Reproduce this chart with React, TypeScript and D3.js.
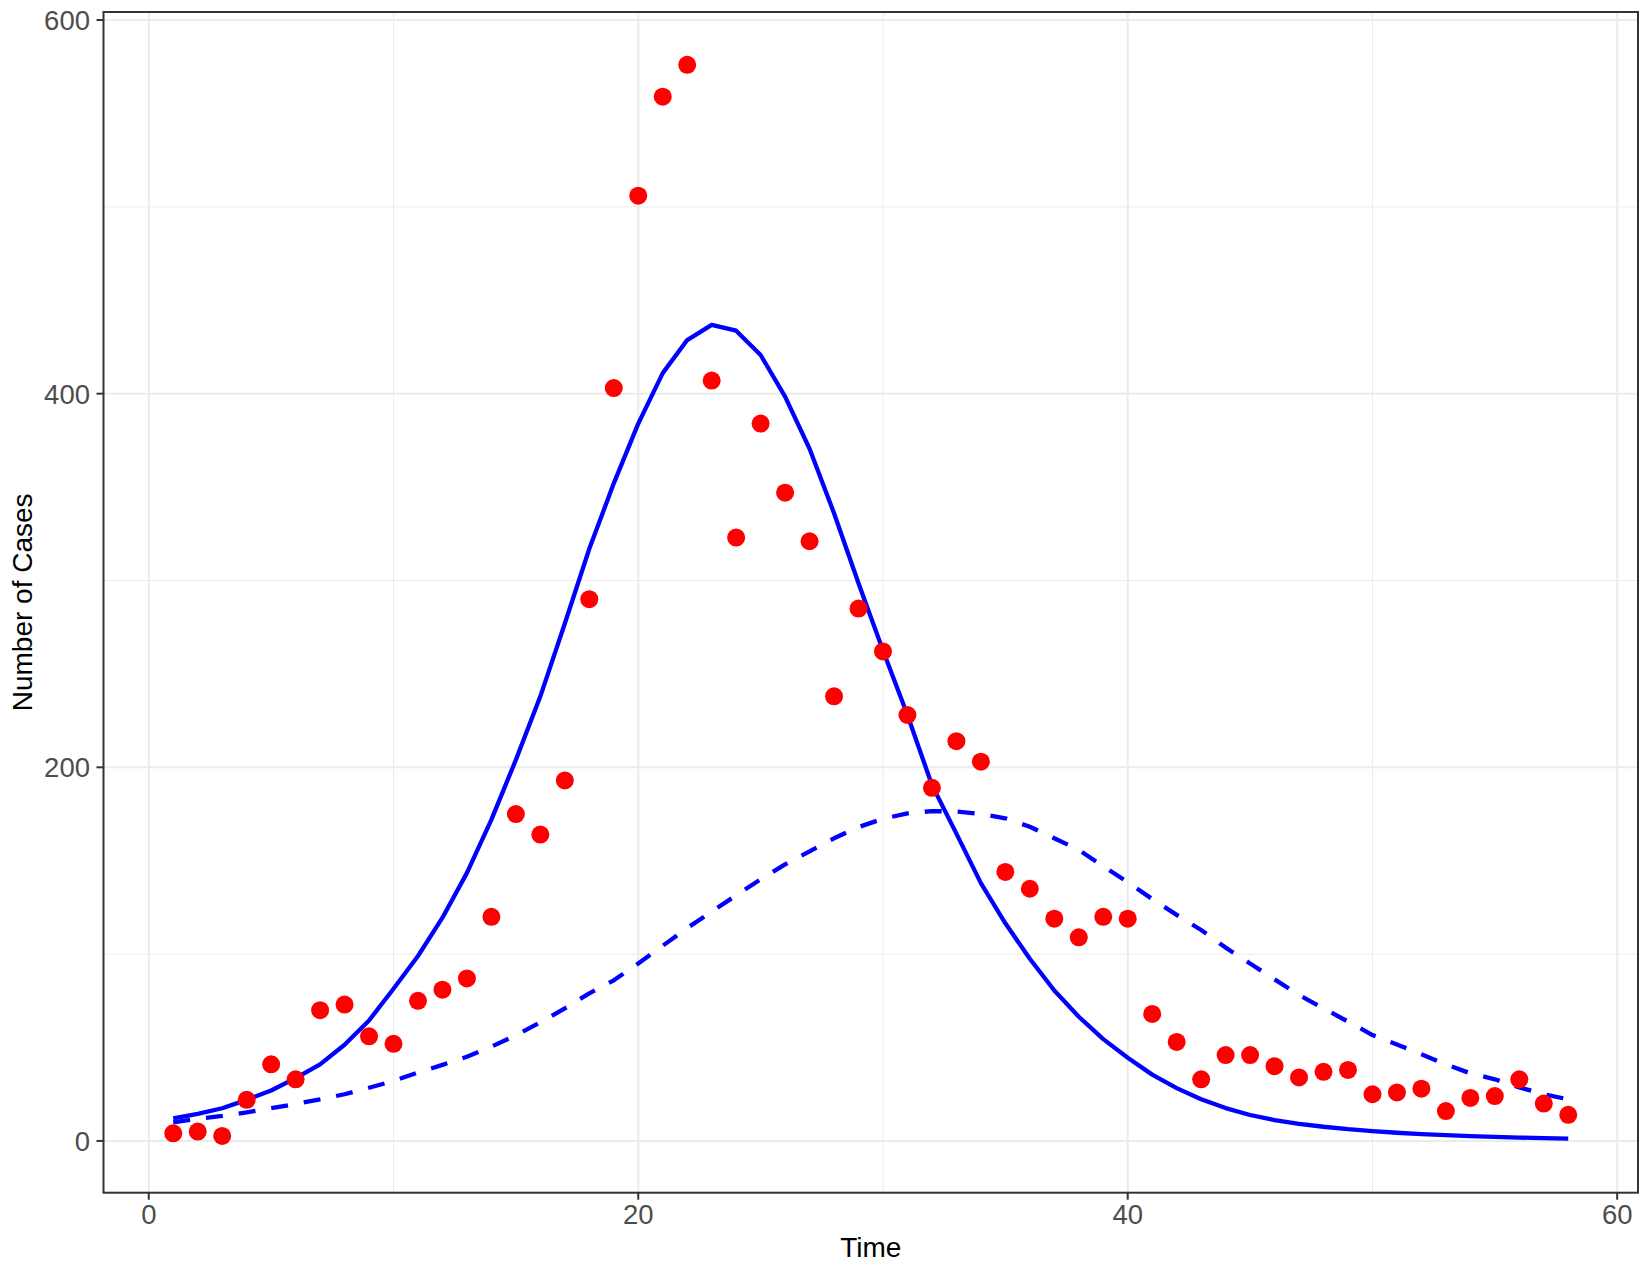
import React from "react";
import * as d3 from "d3";

const times = [1,2,3,4,5,6,7,8,9,10,11,12,13,14,15,16,17,18,19,20,21,22,23,24,25,26,27,28,29,30,31,32,33,34,35,36,37,38,39,40,41,42,43,44,45,46,47,48,49,50,51,52,53,54,55,56,57,58];

const observed = [4.1,5,2.7,22,41,33,70,73,56,52,75,81,87,120,175,164,193,290,403,506,559,576,407,323,384,347,321,238,285,262,228,189,214,203,144,135,119,109,120,119,68,53,33,46,46,40,34,37,38,25,26,28,16,23,24,33,20,14];

const modelSolid = [12.1,14.5,17.5,22,27,33.6,41,51.5,64.5,81.5,99,119.5,143.5,172,204,238,277,317,352,384,411,428.7,436.8,433.7,420.7,398.4,370.5,336,298.5,262.5,228,190.5,164.5,138,116.5,97.5,80.5,66.5,54.5,44.5,35.5,28.3,22.3,17.6,13.9,11.2,9.2,7.6,6.3,5.3,4.4,3.7,3.1,2.6,2.2,1.8,1.5,1.2];

const modelDashed = [10,11.8,13.4,15.3,17.5,19.8,22.3,25,28.5,32.1,36.6,40.7,45.1,50.5,56.5,63.5,71,79,86,95,104.5,114,122.7,131.5,140,148,155,162,168,172.5,175.3,176.6,176.3,175,172.7,168.2,162,155.8,147,138.5,129.5,121,112.9,103.5,95,86.5,78.1,71,63.9,56.7,51.6,46.4,41,36.2,33,28.7,25,22.3];

const xMajor = [0, 20, 40, 60];
const xMinor = [10, 30, 50];
const yMajor = [0, 200, 400, 600];
const yMinor = [100, 300, 500];

const W = 1650;
const H = 1275;
const L = 103.5, R = 1638, T = 12, B = 1192.7;

export default function App() {
  const x = d3.scaleLinear().domain([-1.85, 60.85]).range([L, R]);
  const y = d3.scaleLinear().domain([-27.7, 604.3]).range([B, T]);

  const lineGen = (vals: number[]) =>
    d3.line<number>().x((_, i) => x(times[i])).y((d) => y(d))(vals) || "";

  const font = "'Liberation Sans', Arial, Helvetica, sans-serif";

  return (
    <svg width={W} height={H} style={{ position: "absolute", left: 0, top: 0, background: "#fff" }} fontFamily={font}>
      <rect x={0} y={0} width={W} height={H} fill="#fff" />
      {xMinor.map((v) => (
        <line key={"xm" + v} x1={x(v)} x2={x(v)} y1={T} y2={B} stroke="#EBEBEB" strokeWidth={1} />
      ))}
      {yMinor.map((v) => (
        <line key={"ym" + v} x1={L} x2={R} y1={y(v)} y2={y(v)} stroke="#EBEBEB" strokeWidth={1} />
      ))}
      {xMajor.map((v) => (
        <line key={"xM" + v} x1={x(v)} x2={x(v)} y1={T} y2={B} stroke="#EBEBEB" strokeWidth={2} />
      ))}
      {yMajor.map((v) => (
        <line key={"yM" + v} x1={L} x2={R} y1={y(v)} y2={y(v)} stroke="#EBEBEB" strokeWidth={2} />
      ))}

      <path d={lineGen(modelDashed)} fill="none" stroke="#0000FF" strokeWidth={4.3} strokeDasharray="17 16" strokeLinecap="butt" strokeLinejoin="round" />
      <path d={lineGen(modelSolid)} fill="none" stroke="#0000FF" strokeWidth={4.3} strokeLinecap="butt" strokeLinejoin="round" />

      {observed.map((v, i) => (
        <circle key={"p" + i} cx={x(times[i])} cy={y(v)} r={9} fill="#FF0000" />
      ))}

      <rect x={L} y={T} width={R - L} height={B - T} fill="none" stroke="#333333" strokeWidth={2} />

      {xMajor.map((v) => (
        <g key={"xt" + v}>
          <line x1={x(v)} x2={x(v)} y1={B} y2={B + 7} stroke="#333333" strokeWidth={2} />
          <text x={x(v)} y={1224} textAnchor="middle" fontSize={27.5} fill="#4D4D4D">{v}</text>
        </g>
      ))}
      {yMajor.map((v) => (
        <g key={"yt" + v}>
          <line x1={L - 7} x2={L} y1={y(v)} y2={y(v)} stroke="#333333" strokeWidth={2} />
          <text x={90} y={y(v)} dy="0.36em" textAnchor="end" fontSize={27.5} fill="#4D4D4D">{v}</text>
        </g>
      ))}

      <text x={(L + R) / 2} y={1257} textAnchor="middle" fontSize={28} fill="#000">Time</text>
      <text transform={`translate(32, ${(T + B) / 2}) rotate(-90)`} textAnchor="middle" fontSize={28} fill="#000">Number of Cases</text>
    </svg>
  );
}
